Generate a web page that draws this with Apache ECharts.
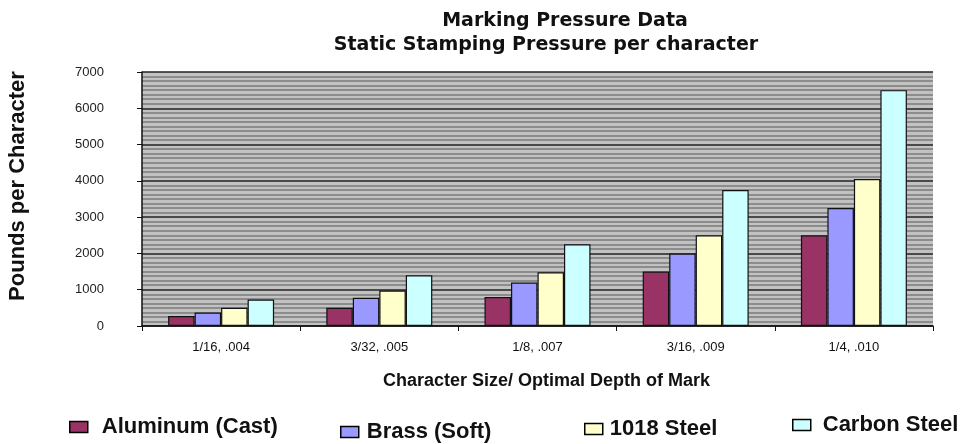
<!DOCTYPE html>
<html>
<head>
<meta charset="utf-8">
<script src="https://cdn.jsdelivr.net/npm/echarts@6/dist/echarts.min.js"></script>
<style>
  html, body { margin: 0; padding: 0; background: #fff; }
  #chart { width: 962px; height: 444px; }
</style>
</head>
<body>
<div id="chart"></div>
<script>
  // data
  const categories = ['1/16, .004', '3/32, .005', '1/8, .007', '3/16, .009', '1/4, .010'];
  const aluminum = [275, 500, 800, 1500, 2500];
  const brass = [370, 780, 1200, 2000, 3250];
  const steel1018 = [500, 980, 1480, 2500, 4050];
  const carbonSteel = [730, 1400, 2250, 3750, 6500];

  const seriesNames = ['Aluminum (Cast)', 'Brass (Soft)', '1018 Steel', 'Carbon Steel'];
  const seriesData = [aluminum, brass, steel1018, carbonSteel];
  const colors = ['#993366', '#9999ff', '#ffffcc', '#ccffff'];

  const font = 'Liberation Sans, Arial, sans-serif';
  const wideFont = 'DejaVu Sans, Liberation Sans, sans-serif';
  const chart = echarts.init(document.getElementById('chart'));

  // one legend per item so each one can sit where the original puts it
  const legendPos = [
    { left: 64, top: 411, gap: 9 },
    { left: 335, top: 416, gap: 3 },
    { left: 579, top: 413, gap: 2 },
    { left: 787, top: 409, gap: 7 },
  ];

  chart.setOption({
    backgroundColor: '#fff',
    animation: false,
    color: colors,
    title: [
      {
        text: 'Marking Pressure Data',
        left: 560,
        top: 7,
        textAlign: 'center',
        textStyle: { fontFamily: wideFont, fontSize: 19, fontWeight: 'bold', color: '#111' },
      },
      {
        text: 'Static Stamping Pressure per character',
        left: 541,
        top: 31,
        textAlign: 'center',
        textStyle: { fontFamily: wideFont, fontSize: 19, fontWeight: 'bold', color: '#111' },
      },
    ],
    graphic: [
      {
        type: 'text',
        x: 18,
        y: 186,
        rotation: Math.PI / 2,
        style: {
          text: 'Pounds per Character',
          fontFamily: font,
          fontSize: 22,
          fontWeight: 'bold',
          fill: '#111',
          align: 'center',
          verticalAlign: 'middle',
        },
      },
    ],
    legend: seriesNames.map((name, i) => ({
      data: [name],
      left: legendPos[i].left,
      top: legendPos[i].top,
      itemWidth: 18,
      itemHeight: 11,
      selectedMode: false,
      icon: 'rect',
      itemStyle: { borderColor: '#000', borderWidth: 1.5 },
      textStyle: {
        fontFamily: font, fontSize: 22, fontWeight: 'bold', color: '#111',
        padding: [0, 0, 0, legendPos[i].gap],
      },
    })),
    grid: {
      left: 142,
      right: 29,
      top: 72,
      bottom: 118,
      show: true,
      backgroundColor: '#c2c2c2',
      borderWidth: 0,
    },
    xAxis: {
      type: 'category',
      data: categories,
      name: 'Character Size/ Optimal Depth of Mark',
      nameLocation: 'middle',
      nameGap: 46,
      nameTextStyle: { fontFamily: font, fontSize: 18, fontWeight: 'bold', color: '#111', padding: [0, 0, 0, 18] },
      axisLine: { lineStyle: { color: '#111', width: 1.5 } },
      axisTick: { show: true, length: 5, lineStyle: { color: '#111' } },
      axisLabel: { fontFamily: font, fontSize: 13, color: '#111', margin: 15 },
    },
    yAxis: {
      type: 'value',
      min: 0,
      max: 7000,
      interval: 1000,
      axisLine: { show: true, lineStyle: { color: '#111', width: 1.5 } },
      axisTick: { show: true, length: 5, lineStyle: { color: '#111' } },
      axisLabel: { fontFamily: font, fontSize: 13, color: '#222', margin: 38, formatter: v => String(v) },
      splitLine: { show: true, lineStyle: { color: '#222', width: 1.5 } },
      minorTick: { show: false, splitNumber: 8 },
      minorSplitLine: { show: true, lineStyle: { color: '#8c8c8c', width: 2 } },
    },
    series: seriesNames.map((name, i) => ({
      name,
      type: 'bar',
      data: seriesData[i],
      barGap: '0%',
      barCategoryGap: '33%',
      itemStyle: { color: colors[i], borderColor: '#111', borderWidth: 1.2 },
    })),
  });
</script>
</body>
</html>
